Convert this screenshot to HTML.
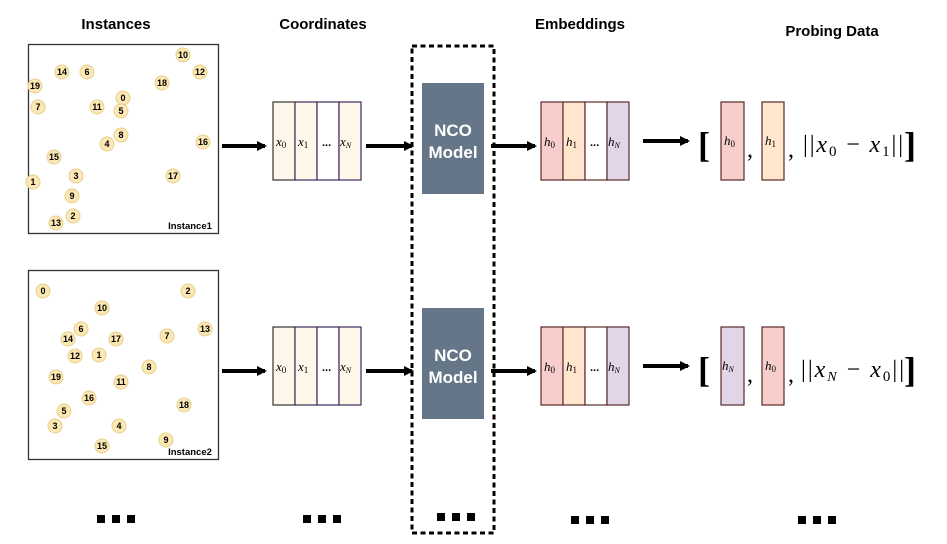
<!DOCTYPE html>
<html><head><meta charset="utf-8"><style>
body{margin:0;background:#fff}
svg{display:block}
.t{font-family:"Liberation Sans",sans-serif;font-weight:bold;font-size:15px}
.n{font-family:"Liberation Sans",sans-serif;font-weight:bold;font-size:9px;text-anchor:middle}
.m{font-family:"Liberation Serif",serif;font-style:italic;font-size:13px}
</style></head><body>
<svg width="947" height="544" viewBox="0 0 947 544" xmlns="http://www.w3.org/2000/svg">
<defs>
<marker id="ah" markerWidth="10" markerHeight="10" refX="8" refY="5" orient="auto" markerUnits="userSpaceOnUse">
<path d="M0,0 L10,5 L0,10 Z" fill="#000"/></marker>
<g id="dots"><rect x="0" y="0" width="8" height="8"/><rect x="15" y="0" width="8" height="8"/><rect x="30" y="0" width="8" height="8"/></g>
</defs>
<text class="t" x="116" y="29" text-anchor="middle">Instances</text>
<text class="t" x="323" y="29" text-anchor="middle">Coordinates</text>
<text class="t" x="580" y="29" text-anchor="middle">Embeddings</text>
<text class="t" x="832" y="36" text-anchor="middle">Probing Data</text>

<rect x="28.5" y="44.5" width="190" height="189" fill="#fff" stroke="#333" stroke-width="1.3"/>
<rect x="28.5" y="270.5" width="190" height="189" fill="#fff" stroke="#333" stroke-width="1.3"/>
<g fill="#fbe8b4" stroke="#e8cf8a" stroke-width="1">
<circle cx="183" cy="55" r="7"/><circle cx="200" cy="72" r="7"/><circle cx="62" cy="72" r="7"/><circle cx="87" cy="72" r="7"/><circle cx="35" cy="86" r="7"/><circle cx="162" cy="83" r="7"/><circle cx="123" cy="98" r="7"/><circle cx="38" cy="107" r="7"/><circle cx="97" cy="107" r="7"/><circle cx="121" cy="111" r="7"/><circle cx="121" cy="135" r="7"/><circle cx="107" cy="144" r="7"/><circle cx="203" cy="142" r="7"/><circle cx="54" cy="157" r="7"/><circle cx="76" cy="176" r="7"/><circle cx="173" cy="176" r="7"/><circle cx="33" cy="182" r="7"/><circle cx="72" cy="196" r="7"/><circle cx="73" cy="216" r="7"/><circle cx="56" cy="223" r="7"/>
<circle cx="43" cy="291" r="7"/><circle cx="188" cy="291" r="7"/><circle cx="102" cy="308" r="7"/><circle cx="81" cy="329" r="7"/><circle cx="205" cy="329" r="7"/><circle cx="68" cy="339" r="7"/><circle cx="116" cy="339" r="7"/><circle cx="167" cy="336" r="7"/><circle cx="75" cy="356" r="7"/><circle cx="99" cy="355" r="7"/><circle cx="149" cy="367" r="7"/><circle cx="56" cy="377" r="7"/><circle cx="121" cy="382" r="7"/><circle cx="89" cy="398" r="7"/><circle cx="184" cy="405" r="7"/><circle cx="64" cy="411" r="7"/><circle cx="55" cy="426" r="7"/><circle cx="119" cy="426" r="7"/><circle cx="166" cy="440" r="7"/><circle cx="102" cy="446" r="7"/>
</g>
<g class="n">
<text x="183" y="58">10</text><text x="200" y="75">12</text><text x="62" y="75">14</text><text x="87" y="75">6</text><text x="35" y="89">19</text><text x="162" y="86">18</text><text x="123" y="101">0</text><text x="38" y="110">7</text><text x="97" y="110">11</text><text x="121" y="114">5</text><text x="121" y="138">8</text><text x="107" y="147">4</text><text x="203" y="145">16</text><text x="54" y="160">15</text><text x="76" y="179">3</text><text x="173" y="179">17</text><text x="33" y="185">1</text><text x="72" y="199">9</text><text x="73" y="219">2</text><text x="56" y="226">13</text>
<text x="43" y="294">0</text><text x="188" y="294">2</text><text x="102" y="311">10</text><text x="81" y="332">6</text><text x="205" y="332">13</text><text x="68" y="342">14</text><text x="116" y="342">17</text><text x="167" y="339">7</text><text x="75" y="359">12</text><text x="99" y="358">1</text><text x="149" y="370">8</text><text x="56" y="380">19</text><text x="121" y="385">11</text><text x="89" y="401">16</text><text x="184" y="408">18</text><text x="64" y="414">5</text><text x="55" y="429">3</text><text x="119" y="429">4</text><text x="166" y="443">9</text><text x="102" y="449">15</text>
</g>
<text class="n" x="190" y="229" style="font-size:9.5px">Instance1</text>
<text class="n" x="190" y="455" style="font-size:9.5px">Instance2</text>

<g id="coord">
<rect x="273" y="102" width="22" height="78" fill="#fff8ea" stroke="#333" stroke-width="1.2"/>
<rect x="295" y="102" width="22" height="78" fill="#fff8ea" stroke="#3d2a5c" stroke-width="1.2"/>
<rect x="317" y="102" width="22" height="78" fill="#fff" stroke="#3d2a5c" stroke-width="1.2"/>
<rect x="339" y="102" width="22" height="78" fill="#fff8ea" stroke="#3d2a5c" stroke-width="1.2"/>
<text class="m" x="276" y="146">x<tspan font-size="9" font-style="normal" dy="2">0</tspan></text>
<text class="m" x="298" y="146">x<tspan font-size="9" font-style="normal" dy="2">1</tspan></text>
<text x="322" y="146" font-family="Liberation Sans" font-weight="bold" font-size="11">...</text>
<text class="m" x="340" y="146">x<tspan font-size="8" dy="2">N</tspan></text>
</g>
<use href="#coord" y="225"/>

<rect x="412" y="46" width="82" height="487" fill="none" stroke="#000" stroke-width="3" stroke-dasharray="5,3.5"/>
<g font-family="Liberation Sans" font-weight="bold" font-size="17" fill="#fff" text-anchor="middle">
<rect x="422" y="83" width="62" height="111" fill="#647687"/>
<text x="453" y="136">NCO</text><text x="453" y="158">Model</text>
<rect x="422" y="308" width="62" height="111" fill="#647687"/>
<text x="453" y="361">NCO</text><text x="453" y="383">Model</text>
</g>

<g id="emb">
<rect x="541" y="102" width="22" height="78" fill="#f8cecc" stroke="#5a2a2a" stroke-width="1.2"/>
<rect x="563" y="102" width="22" height="78" fill="#ffe6cc" stroke="#5a2a2a" stroke-width="1.2"/>
<rect x="585" y="102" width="22" height="78" fill="#fff" stroke="#5a2a2a" stroke-width="1.2"/>
<rect x="607" y="102" width="22" height="78" fill="#e1d5e7" stroke="#5a2a2a" stroke-width="1.2"/>
<text class="m" x="544" y="146">h<tspan font-size="9" font-style="normal" dy="2">0</tspan></text>
<text class="m" x="566" y="146">h<tspan font-size="9" font-style="normal" dy="2">1</tspan></text>
<text x="590" y="146" font-family="Liberation Sans" font-weight="bold" font-size="11">...</text>
<text class="m" x="608" y="146">h<tspan font-size="8" dy="2">N</tspan></text>
</g>
<use href="#emb" y="225"/>

<g stroke="#000" stroke-width="4" marker-end="url(#ah)">
<line x1="222" y1="146" x2="265" y2="146"/><line x1="222" y1="371" x2="265" y2="371"/>
<line x1="366" y1="146" x2="412" y2="146"/><line x1="366" y1="371" x2="412" y2="371"/>
<line x1="491" y1="146" x2="535" y2="146"/><line x1="491" y1="371" x2="535" y2="371"/>
<line x1="643" y1="141" x2="688" y2="141"/><line x1="643" y1="366" x2="688" y2="366"/>
</g>

<g font-family="Liberation Serif" font-size="36" font-weight="bold">
<text x="698" y="157">[</text><text x="904" y="157">]</text>
<text x="698" y="382">[</text><text x="904" y="382">]</text>
</g>
<rect x="721" y="102" width="23" height="78" fill="#f8cecc" stroke="#5a2a2a" stroke-width="1.2"/>
<rect x="762" y="102" width="22" height="78" fill="#ffe6cc" stroke="#5a2a2a" stroke-width="1.2"/>
<text class="m" x="724" y="145">h<tspan font-size="9" font-style="normal" dy="2">0</tspan></text>
<text class="m" x="765" y="145">h<tspan font-size="9" font-style="normal" dy="2">1</tspan></text>
<text x="747" y="157" font-family="Liberation Serif" font-size="24">,</text>
<text x="788" y="157" font-family="Liberation Serif" font-size="24">,</text>
<text x="803" y="152" font-family="Liberation Serif" font-size="24" textLength="100" lengthAdjust="spacing">||<tspan font-style="italic">x</tspan><tspan font-size="15" dy="4">0</tspan><tspan dy="-4"> − </tspan><tspan font-style="italic">x</tspan><tspan font-size="15" dy="4">1</tspan><tspan dy="-4">||</tspan></text>

<rect x="721" y="327" width="23" height="78" fill="#e1d5e7" stroke="#5a2a2a" stroke-width="1.2"/>
<rect x="762" y="327" width="22" height="78" fill="#f8cecc" stroke="#5a2a2a" stroke-width="1.2"/>
<text class="m" x="722" y="370">h<tspan font-size="8" dy="2">N</tspan></text>
<text class="m" x="765" y="370">h<tspan font-size="9" font-style="normal" dy="2">0</tspan></text>
<text x="747" y="382" font-family="Liberation Serif" font-size="24">,</text>
<text x="788" y="382" font-family="Liberation Serif" font-size="24">,</text>
<text x="801" y="377" font-family="Liberation Serif" font-size="24" textLength="103" lengthAdjust="spacing">||<tspan font-style="italic">x</tspan><tspan font-size="14" font-style="italic" dy="4">N</tspan><tspan dy="-4"> − </tspan><tspan font-style="italic">x</tspan><tspan font-size="15" dy="4">0</tspan><tspan dy="-4">||</tspan></text>

<use href="#dots" x="97" y="515"/>
<use href="#dots" x="303" y="515"/>
<use href="#dots" x="437" y="513"/>
<use href="#dots" x="571" y="516"/>
<use href="#dots" x="798" y="516"/>
</svg>
</body></html>
